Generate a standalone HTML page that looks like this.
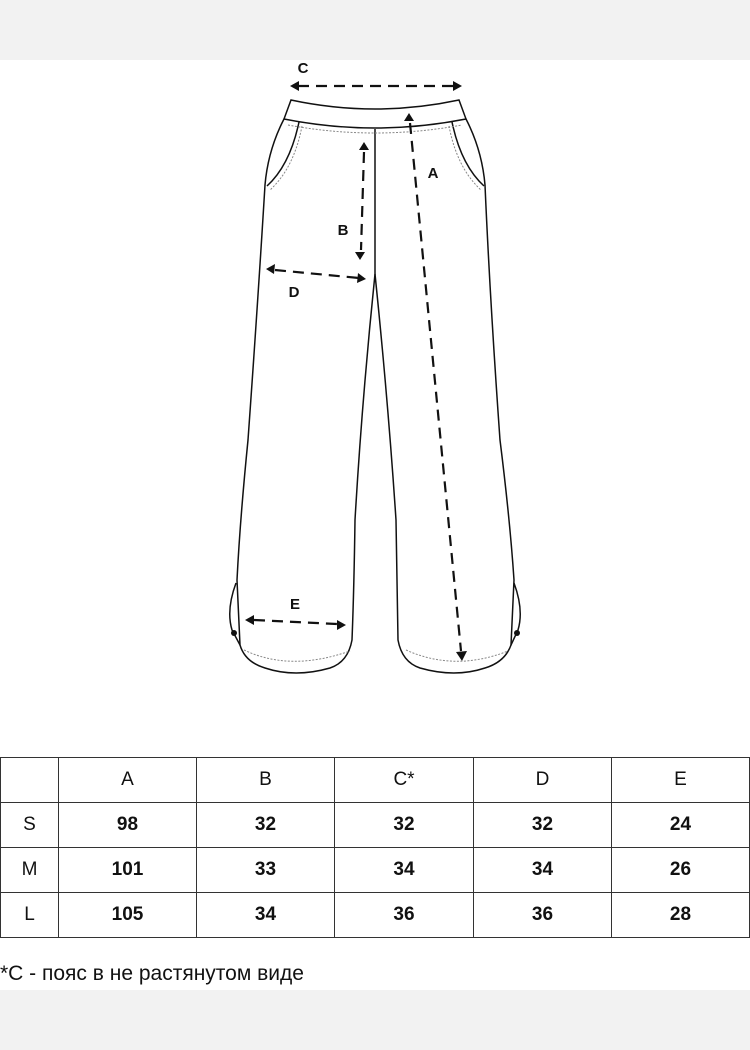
<!DOCTYPE html>
<html><head><meta charset="utf-8"><style>
html,body{margin:0;padding:0;width:750px;height:1050px;background:#fff;overflow:hidden;font-family:"Liberation Sans",sans-serif;}
.band{position:absolute;left:0;width:750px;background:#f2f2f2;}
table{position:absolute;left:0;top:757px;border-collapse:collapse;}
td{border:1.5px solid #333;height:44px;text-align:center;font-size:19px;color:#111;padding:0;}
td.n{font-weight:bold;}
.note{position:absolute;left:0;top:962px;font-size:21px;color:#111;white-space:nowrap;}
</style></head><body>
<div class="band" style="top:0;height:60px"></div>
<div class="band" style="top:990px;height:60px"></div>
<svg width="750" height="1050" style="position:absolute;left:0;top:0" xmlns="http://www.w3.org/2000/svg">
<g fill="none" stroke="#111" stroke-width="1.5">
<path d="M291,100 Q375,118 459,100 L466,119 Q375,137 284,119 Z"/>
<path d="M284,119 Q268,150 265,185 Q258,300 248,440 Q240,520 237,580 L240,645 Q245,662 265,668 Q295,678 330,668 Q348,662 352,640 Q354,590 355,520 Q362,400 375,274 L375,129"/>
<path d="M466,119 Q482,150 485,185 Q490,300 500,440 Q510,520 514,580 L511,645 Q505,662 485,668 Q455,678 420,668 Q402,662 398,640 Q397,590 396,520 Q388,400 375,274"/>
<path d="M236,583 Q226,610 232,630 L240,645"/>
<path d="M514,583 Q524,610 518,630 L511,645"/>
<path d="M299,122 Q290,165 267,186"/>
<path d="M452,122 Q461,165 484,186"/>
</g>
<circle cx="234" cy="633" r="3" fill="#111"/>
<circle cx="517" cy="633" r="3" fill="#111"/>
<g fill="none" stroke="#888" stroke-width="1" stroke-dasharray="2,1.5">
<path d="M288,125 Q375,141 462,125"/>
<path d="M302,126 Q294,168 270,190"/>
<path d="M449,126 Q457,168 481,190"/>
<path d="M244,650 Q290,672 350,651"/>
<path d="M406,650 Q455,672 508,651"/>
</g>
<g stroke="#111" stroke-width="2.2" stroke-dasharray="11,7" fill="none">
<line x1="298" y1="86" x2="454" y2="86"/>
<line x1="410" y1="123" x2="461" y2="651"/>
<line x1="364" y1="152" x2="361" y2="250"/>
<line x1="275" y1="270" x2="359" y2="278"/>
<line x1="254" y1="620" x2="337" y2="624"/>
</g>
<g fill="#111">
<polygon points="290,86 299,81 299,91"/><polygon points="462,86 453,81 453,91"/>
<polygon points="409,113 404,121 414,121"/><polygon points="462,661 456,652 467,651"/>
<polygon points="364,142 359,150 369,150"/><polygon points="360,260 355,252 365,252"/>
<polygon points="266,269 275,264 274,274"/><polygon points="366,279 357,283 358,273"/>
<polygon points="245,620 254,615 254,625"/><polygon points="346,625 337,630 337,620"/>
</g>
<g font-family="Liberation Sans,sans-serif" font-size="15" font-weight="bold" fill="#111" text-anchor="middle">
<text x="303" y="73">C</text><text x="433" y="178">A</text><text x="343" y="235">B</text>
<text x="294" y="297">D</text><text x="295" y="609">E</text>
</g>
</svg>
<table>
<tr><td style="width:57px"></td><td style="width:137px">A</td><td style="width:137px">B</td><td style="width:138px">C*</td><td style="width:137px">D</td><td style="width:137px">E</td></tr>
<tr><td>S</td><td class="n">98</td><td class="n">32</td><td class="n">32</td><td class="n">32</td><td class="n">24</td></tr>
<tr><td>M</td><td class="n">101</td><td class="n">33</td><td class="n">34</td><td class="n">34</td><td class="n">26</td></tr>
<tr><td>L</td><td class="n">105</td><td class="n">34</td><td class="n">36</td><td class="n">36</td><td class="n">28</td></tr>
</table>
<div class="note">*C - пояс в не растянутом виде</div>
</body></html>
